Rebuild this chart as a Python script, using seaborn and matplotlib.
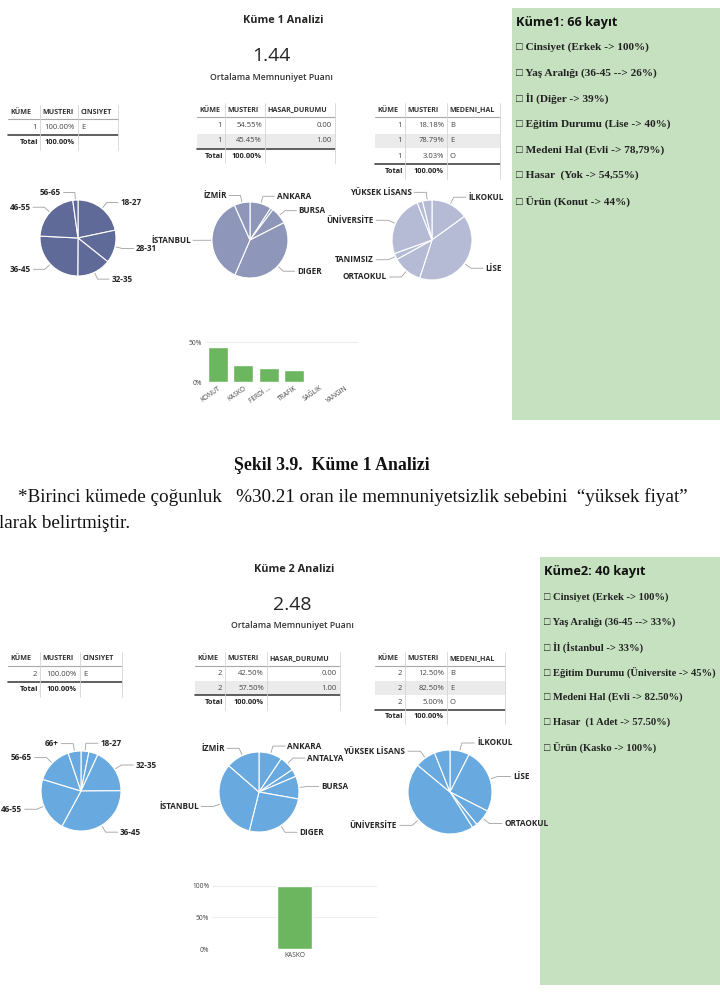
import matplotlib
matplotlib.use("Agg")
import matplotlib.pyplot as plt
from matplotlib.patches import Rectangle
from matplotlib.ticker import PercentFormatter
import numpy as np
import pandas as pd
import seaborn as sns

# ---------------- data ----------------
k1_title = "Küme 1 Analizi"
k1_score = "1.44"
k1_cins = [["1", "100.00%", "E"]]
k1_hasar = [["1", "54.55%", "0.00"], ["1", "45.45%", "1.00"]]
k1_medeni = [["1", "18.18%", "B"], ["1", "78.79%", "E"], ["1", "3.03%", "O"]]
k1_yas_labels = ["18-27", "28-31", "32-35", "36-45", "46-55", "56-65"]
k1_yas_vals = [21.7, 14.0, 14.4, 25.7, 22.0, 2.2]
k1_il_labels = ["ANKARA", "", "BURSA", "DIGER", "İSTANBUL", "İZMİR"]
k1_il_vals = [9.2, 1.1, 7.2, 39.0, 36.8, 6.7]
k1_egt_labels = ["İLKOKUL", "LİSE", "ORTAOKUL", "TANIMSIZ", "ÜNİVERSİTE", "", "YÜKSEK LİSANS"]
k1_egt_vals = [15.0, 40.0, 12.0, 2.5, 24.5, 2.2, 3.8]
k1_urun = ["KONUT", "KASKO", "FERDİ ...", "TRAFİK", "SAĞLIK", "YANGIN"]
k1_urun_vals = [44.0, 21.5, 17.0, 15.0, 1.5, 1.0]
k1_box_title = "Küme1: 66 kayıt"
k1_box_items = ["□ Cinsiyet (Erkek -> 100%)",
                "□ Yaş Aralığı (36-45 --> 26%)",
                "□ İl (Diğer -> 39%)",
                "□ Eğitim Durumu (Lise -> 40%)",
                "□ Medeni Hal (Evli -> 78,79%)",
                "□ Hasar  (Yok -> 54,55%)",
                "□ Ürün (Konut -> 44%)"]

k2_title = "Küme 2 Analizi"
k2_score = "2.48"
k2_cins = [["2", "100.00%", "E"]]
k2_hasar = [["2", "42.50%", "0.00"], ["2", "57.50%", "1.00"]]
k2_medeni = [["2", "12.50%", "B"], ["2", "82.50%", "E"], ["2", "5.00%", "O"]]
k2_yas_labels = ["18-27", "", "32-35", "36-45", "46-55", "56-65", "66+"]
k2_yas_vals = [3.2, 3.7, 18.0, 33.0, 21.8, 15.1, 5.2]
k2_il_labels = ["ANKARA", "ANTALYA", "", "BURSA", "DIGER", "İSTANBUL", "İZMİR"]
k2_il_vals = [9.4, 6.2, 3.0, 9.2, 26.1, 32.5, 13.6]
k2_egt_labels = ["İLKOKUL", "LİSE", "ORTAOKUL", "", "ÜNİVERSİTE", "YÜKSEK LİSANS", ""]
k2_egt_vals = [7.5, 25.0, 6.5, 2.0, 45.0, 8.0, 6.0]
k2_urun = ["KASKO"]
k2_urun_vals = [100.0]
k2_box_title = "Küme2: 40 kayıt"
k2_box_items = ["□ Cinsiyet (Erkek -> 100%)",
                "□ Yaş Aralığı (36-45 --> 33%)",
                "□ İl (İstanbul -> 33%)",
                "□ Eğitim Durumu (Üniversite -> 45%)",
                "□ Medeni Hal (Evli -> 82.50%)",
                "□ Hasar  (1 Adet -> 57.50%)",
                "□ Ürün (Kasko -> 100%)"]

caption = "Şekil 3.9.  Küme 1 Analizi"
body1 = "*Birinci kümede çoğunluk   %30.21 oran ile memnuniyetsizlik sebebini  “yüksek fiyat”"
body2 = "larak belirtmiştir."

# ---------------- setup ----------------
sns.set_theme(style="white")
plt.rcParams["font.family"] = ["Open Sans", "DejaVu Sans"]
W, H = 720, 1002
fig = plt.figure(figsize=(W / 100, H / 100), dpi=100)
fig.patch.set_facecolor("white")

bg = fig.add_axes([0, 0, 1, 1])
bg.set_xlim(0, W)
bg.set_ylim(H, 0)
bg.axis("off")

DARK = "#252423"
GREEN = "#6cb65f"
SERIF = ["Liberation Serif", "DejaVu Serif", "DejaVu Sans"]


def px_ax(x, y, w, h):
    return fig.add_axes([x / W, 1 - (y + h) / H, w / W, h / H])


def draw_table(x0, y0, widths, headers, rows, aligns, rh=15.4):
    xs = np.cumsum([x0] + widths)
    fs = 5.1
    for j, hd in enumerate(headers):
        bg.text(xs[j] + 2.5, y0, hd, ha="left", va="center", fontsize=fs,
                fontweight="bold", color="#333333")
    bg.plot([xs[0], xs[-1]], [y0 + 7, y0 + 7], color="#a8a8a8", lw=0.8)
    for i, row in enumerate(rows):
        yy = y0 + rh * (i + 1)
        if i % 2 == 1:
            bg.add_patch(Rectangle((xs[0], yy - rh / 2 + 0.5), xs[-1] - xs[0], rh - 1,
                                   color="#ebebeb", zorder=0, lw=0))
        for j, val in enumerate(row):
            if aligns[j] == "right":
                bg.text(xs[j + 1] - 3, yy, val, ha="right", va="center",
                        fontsize=fs + 0.4, color="#444444")
            else:
                bg.text(xs[j] + 3, yy, val, ha="left", va="center",
                        fontsize=fs + 0.4, color="#444444")
    yt = y0 + rh * (len(rows) + 1)
    bg.plot([xs[0], xs[-1]], [yt - rh / 2, yt - rh / 2], color="#444444", lw=1.2)
    bg.text(xs[1] - 2, yt, "Total", ha="right", va="center", fontsize=fs + 0.2,
            fontweight="bold", color="#222222")
    bg.text(xs[2] - 3, yt, "100.00%", ha="right", va="center", fontsize=fs + 0.2,
            fontweight="bold", color="#222222")
    for xv in xs[1:]:
        bg.plot([xv, xv], [y0 - 7, yt + 7], color="#d4d4d4", lw=0.6)


def draw_pie(cx, cy, r, vals, labels, color):
    side = 5 * r
    ax = px_ax(cx - side / 2, cy - side / 2, side, side)
    ax.patch.set_alpha(0)
    wedges, _ = ax.pie(vals, radius=1, startangle=90, counterclock=False,
                       colors=[color] * len(vals),
                       wedgeprops=dict(edgecolor="white", linewidth=0.8))
    ax.set_xlim(-2.5, 2.5)
    ax.set_ylim(-2.5, 2.5)
    ax.set_aspect("equal")
    ax.axis("off")
    for w, lab in zip(wedges, labels):
        if not lab:
            continue
        th = np.deg2rad((w.theta1 + w.theta2) / 2)
        c, s = np.cos(th), np.sin(th)
        sign = 1 if c >= 0 else -1
        p0 = (1.03 * c, 1.03 * s)
        p1 = (1.2 * c, 1.2 * s)
        p2 = (p1[0] + sign * 0.3, p1[1])
        ax.plot([p0[0], p1[0], p2[0]], [p0[1], p1[1], p2[1]], color="#a0a0a0", lw=0.6,
                clip_on=False)
        ax.text(p2[0] + sign * 0.06, p2[1], lab, ha="left" if sign > 0 else "right",
                va="center", fontsize=5.9, fontweight="bold", color=DARK, clip_on=False)


def draw_bars(x, y, w, h, cats, vals, top, ticks, rot, width):
    ax = px_ax(x, y, w, h)
    df = pd.DataFrame({"urun": cats, "oran": vals})
    sns.barplot(data=df, x="urun", y="oran", color=GREEN, saturation=1, width=width, ax=ax)
    ax.set_ylim(0, top)
    ax.set_yticks(ticks)
    ax.yaxis.set_major_formatter(PercentFormatter(100, decimals=0))
    ax.grid(axis="y", color="#eeeeee", lw=0.8)
    ax.set_axisbelow(True)
    for sp in ax.spines.values():
        sp.set_visible(False)
    ax.set_xlabel("")
    ax.set_ylabel("")
    ax.tick_params(axis="both", length=0, pad=2)
    ax.tick_params(axis="y", labelsize=4.8, labelcolor="#444444")
    ax.tick_params(axis="x", labelsize=4.8, labelcolor="#444444")
    if rot:
        plt.setp(ax.get_xticklabels(), rotation=rot, ha="right", rotation_mode="anchor")
    ax.patch.set_alpha(0)
    return ax


def draw_box(x0, y0, x1, y1, title, items, ty, iy, step, fs):
    bg.add_patch(Rectangle((x0, y0), x1 - x0, y1 - y0, color="#c6e1c0", zorder=0, lw=0))
    bg.text(x0 + 4, ty, title, ha="left", va="center", fontsize=9.2, fontweight="bold",
            color="#111111")
    for i, it in enumerate(items):
        bg.text(x0 + 4, iy + i * step, it, ha="left", va="center", fontsize=fs,
                fontweight="bold", color="#222222", family=SERIF)


# ---------------- section 1 ----------------
draw_box(512, 8, 720, 420, k1_box_title, k1_box_items, 22, 47, 25.7, 8.1)
bg.text(283, 20, k1_title, ha="center", va="center", fontsize=7.8, fontweight="bold", color=DARK)
bg.text(271, 56, k1_score, ha="center", va="center", fontsize=14, color=DARK)
bg.text(271, 77, "Ortalama Memnuniyet Puanı", ha="center", va="center",
        fontsize=6.3, fontweight="semibold", color="#333333")
draw_table(8, 112, [32, 38, 40], ["KÜME", "MUSTERI", "CINSIYET"], k1_cins,
           ["right", "right", "left"])
draw_table(197, 110, [28, 40, 70], ["KÜME", "MUSTERI", "HASAR_DURUMU"], k1_hasar,
           ["right", "right", "right"])
draw_table(375, 110, [30, 42, 53], ["KÜME", "MUSTERI", "MEDENI_HAL"], k1_medeni,
           ["right", "right", "left"])
draw_pie(78, 238, 38, k1_yas_vals, k1_yas_labels, "#5f6a98")
draw_pie(250, 240, 38, k1_il_vals, k1_il_labels, "#8e97b9")
draw_pie(432, 240, 40, k1_egt_vals, k1_egt_labels, "#b5bbd5")
draw_bars(205, 336, 153, 46, k1_urun, k1_urun_vals, 57.5, [0, 50], 35, 0.8)

# ---------------- document text ----------------
bg.text(332, 466, caption, ha="center", va="center", fontsize=12.8, fontweight="bold",
        color="#111111", family=SERIF)
bg.text(18, 497, body1, ha="left", va="center", fontsize=13.8, color="#111111", family=SERIF)
bg.text(-1, 523, body2, ha="left", va="center", fontsize=13.8, color="#111111", family=SERIF)

# ---------------- section 2 ----------------
draw_box(540, 557, 720, 985, k2_box_title, k2_box_items, 572, 597, 25, 7.6)
bg.text(294, 569, k2_title, ha="center", va="center", fontsize=7.8, fontweight="bold", color=DARK)
bg.text(292, 605, k2_score, ha="center", va="center", fontsize=14, color=DARK)
bg.text(292, 625, "Ortalama Memnuniyet Puanı", ha="center", va="center",
        fontsize=6.3, fontweight="semibold", color="#333333")
draw_table(8, 659, [32, 40, 42], ["KÜME", "MUSTERI", "CINSIYET"], k2_cins,
           ["right", "right", "left"])
draw_table(195, 659, [30, 42, 73], ["KÜME", "MUSTERI", "HASAR_DURUMU"], k2_hasar,
           ["right", "right", "right"], rh=14.5)
draw_table(375, 659, [30, 42, 58], ["KÜME", "MUSTERI", "MEDENI_HAL"], k2_medeni,
           ["right", "right", "left"], rh=14.5)
draw_pie(81, 791, 40, k2_yas_vals, k2_yas_labels, "#68a9df")
draw_pie(259, 792, 40, k2_il_vals, k2_il_labels, "#68a9df")
draw_pie(450, 792, 42, k2_egt_vals, k2_egt_labels, "#68a9df")
draw_bars(212, 880, 165, 69, k2_urun, k2_urun_vals, 109.5, [0, 50, 100], 0, 0.21)

fig.savefig("out.png", dpi=100)
